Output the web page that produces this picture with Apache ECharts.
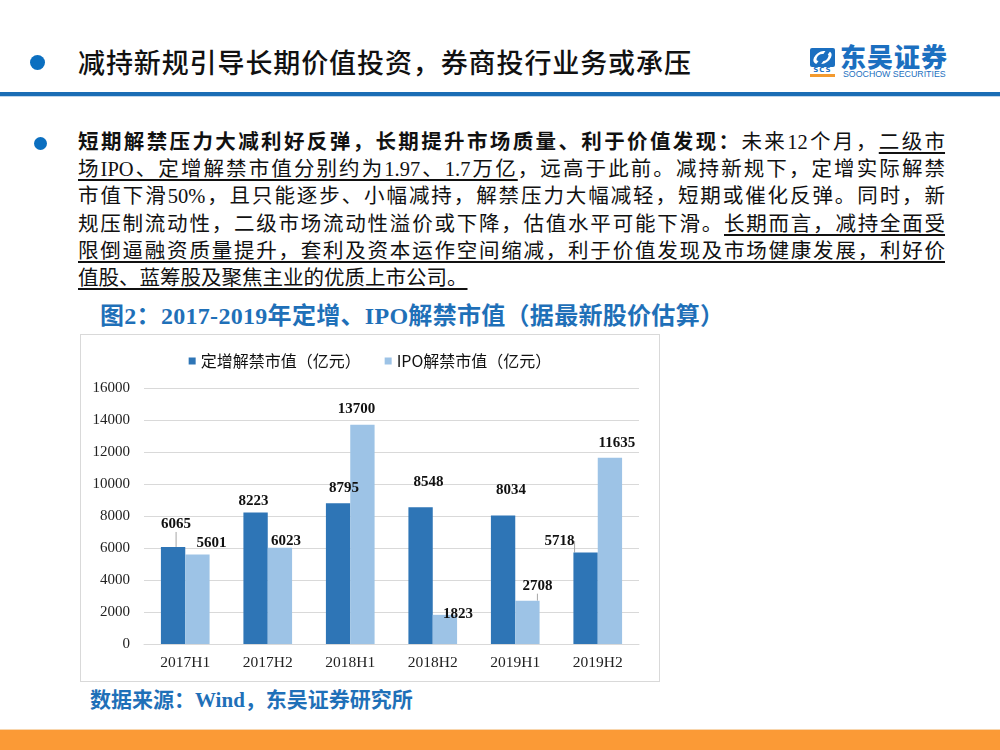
<!DOCTYPE html>
<html>
<head>
<meta charset="utf-8">
<script src="https://cdn.jsdelivr.net/npm/echarts@6/dist/echarts.min.js"></script>
<style>
  html, body { margin:0; padding:0; background:#fff; }
  #page { position:relative; width:1000px; height:750px; overflow:hidden; background:#fff;
          font-family:"Liberation Serif","Noto Sans CJK SC",serif; }
  .dot { position:absolute; border-radius:50%; background:#0B6FC0; }
  #title { position:absolute; left:78px; top:44px; font-family:"Noto Sans CJK SC",sans-serif;
           font-size:27px; line-height:36px; letter-spacing:0.9px; color:#111; font-weight:500; }
  #hline { position:absolute; left:0; top:92px; width:1000px; height:4px; background:#1A6DB5; }
  #hline2 { position:absolute; left:0; top:96px; width:1000px; height:1px; background:#BFD6EC; }
  #para { position:absolute; left:78px; top:129px; width:867px; font-size:20.5px; color:#111; }
  #para .ln { height:27.2px; line-height:27.2px; text-align:justify; text-align-last:justify; white-space:nowrap; }
  #para .ln.last { text-align-last:left; }
  #para b { font-weight:700; }
  #para u { text-decoration:underline; text-underline-offset:3px; }
  #ctitle { position:absolute; left:100px; top:300px; font-size:24px; line-height:32px; font-weight:700;
            color:#1F70B8; white-space:nowrap; letter-spacing:0.3px; }
  #chartbox { position:absolute; left:80px; top:334px; width:580px; height:348px; box-sizing:border-box;
              border:1px solid #d9d9d9; }
  #chart { width:578px; height:346px; }
  #source { position:absolute; left:90px; top:686px; font-size:21px; line-height:28px; font-weight:700;
            color:#1F70B8; white-space:nowrap; }
  #bottom { position:absolute; left:0; top:729px; width:1000px; height:21px; background:#FB9A36;
            border-top:1px solid #F8D6AE; }
  #logo-icon { position:absolute; left:810px; top:48px; width:25px; height:19px; background:#1B6FC0; border-radius:2px; overflow:hidden; }
  #logo-icon:before { content:""; position:absolute; left:4px; top:3px; width:17px; height:13px; border:3px solid #fff;
                      border-radius:7px; box-sizing:border-box; transform:skewX(-25deg); }
  #logo-icon:after { content:""; position:absolute; left:11px; top:-2px; width:4px; height:24px; background:#1B6FC0; transform:rotate(35deg); }
  #logo-scs { position:absolute; left:810px; top:67px; width:25px; font-family:"DejaVu Sans",sans-serif; font-size:7px; line-height:7px;
              font-weight:700; color:#1B6FC0; text-align:center; letter-spacing:1px; border-bottom:3px solid #F39A2E; }
  #logo-cn { position:absolute; left:840px; top:43px; font-family:"Noto Sans CJK SC",sans-serif; font-weight:900; font-size:26px;
             line-height:26px; color:#1B6FC0; letter-spacing:1px; }
  #logo-en { position:absolute; left:843px; top:69px; font-family:"Liberation Sans",sans-serif; font-size:8.8px; line-height:10px;
             color:#1B6FC0; letter-spacing:0; }
</style>
</head>
<body>
<div id="page">
  <div class="dot" style="left:30px;top:55px;width:15px;height:15px;"></div>
  <div id="title">减持新规引导长期价值投资，券商投行业务或承压</div>
  <div id="logo-icon"></div>
  <div id="logo-scs">SCS</div>
  <div id="logo-cn">东吴证券</div>
  <div id="logo-en">SOOCHOW SECURITIES</div>
  <div id="hline"></div>
  <div id="hline2"></div>

  <div class="dot" style="left:34px;top:137px;width:13px;height:13px;"></div>
  <div id="para">
    <div class="ln"><b>短期解禁压力大减利好反弹，长期提升市场质量、利于价值发现：</b>未来12个月，<u>二级市</u></div>
    <div class="ln"><u>场IPO、定增解禁市值分别约为1.97、1.7万亿</u>，远高于此前。减持新规下，定增实际解禁</div>
    <div class="ln">市值下滑50%，且只能逐步、小幅减持，解禁压力大幅减轻，短期或催化反弹。同时，新</div>
    <div class="ln">规压制流动性，二级市场流动性溢价或下降，估值水平可能下滑。<u>长期而言，减持全面受</u></div>
    <div class="ln"><u>限倒逼融资质量提升，套利及资本运作空间缩减，利于价值发现及市场健康发展，利好价</u></div>
    <div class="ln last"><u>值股、蓝筹股及聚焦主业的优质上市公司。</u></div>
  </div>

  <div id="ctitle">图2：2017-2019年定增、IPO解禁市值（据最新股价估算）</div>
  <div id="chartbox"><div id="chart"></div></div>
  <div id="source">数据来源：Wind，东吴证券研究所</div>
  <div id="bottom"></div>
</div>
<script>
// ---- data ----
const categories = ['2017H1', '2017H2', '2018H1', '2018H2', '2019H1', '2019H2'];
const seriesNames = ['定增解禁市值（亿元）', 'IPO解禁市值（亿元）'];
const dingzengValues = [6065, 8223, 8795, 8548, 8034, 5718];
const ipoValues = [5601, 6023, 13700, 1823, 2708, 11635];
const yTicks = { min: 0, max: 16000, interval: 2000 };

// label nudges (style only), leader line flags
const dzLabelShift = [[3, -11], [-2, 0], [6, -4], [8, -14], [8, -14], [-26, 0]];
const ipoLabelShift = [[14, 0], [6, 5], [-6, -4], [13, 11], [10, -3], [7, -3]];
const dzLeader = [true, false, false, false, false, true];
const ipoLeader = [false, false, false, false, true, false];

function mkData(vals, leaders) {
  return vals.map((v, i) => leaders[i]
    ? { value: v, labelLine: { show: true, lineStyle: { color: '#A6A6A6', width: 1 } } }
    : { value: v });
}

const chart = echarts.init(document.getElementById('chart'), null, { renderer: 'canvas' });
const labelStyle = {
  show: true, position: 'top', distance: 4,
  fontFamily: 'Liberation Serif', fontWeight: 'bold', fontSize: 15, color: '#111'
};
chart.setOption({
  animation: false,
  textStyle: { fontFamily: 'Liberation Serif' },
  legend: {
    top: 13, left: 'center', itemWidth: 7, itemHeight: 7, itemGap: 24, icon: 'rect',
    textStyle: { fontFamily: 'Noto Sans CJK SC', fontSize: 16, color: '#111' },
    data: seriesNames
  },
  grid: { left: 63, right: 20, top: 53, bottom: 37 },
  xAxis: {
    type: 'category', data: categories,
    axisLine: { lineStyle: { color: '#D9D9D9', width: 1 } },
    axisTick: { show: false },
    axisLabel: { fontFamily: 'Liberation Serif', fontSize: 15.5, color: '#222', margin: 11 }
  },
  yAxis: {
    type: 'value', min: yTicks.min, max: yTicks.max, interval: yTicks.interval,
    axisLine: { show: false }, axisTick: { show: false },
    splitLine: { lineStyle: { color: '#D9D9D9', width: 1 } },
    axisLabel: { fontFamily: 'Liberation Serif', fontSize: 15, color: '#222', margin: 14,
                 formatter: v => String(v) }
  },
  series: [
    {
      name: seriesNames[0], type: 'bar', data: mkData(dingzengValues, dzLeader),
      barGap: '0%', barCategoryGap: '41%',
      itemStyle: { color: '#2E75B6' },
      label: labelStyle,
      labelLayout: p => ({ dx: dzLabelShift[p.dataIndex][0], dy: dzLabelShift[p.dataIndex][1] })
    },
    {
      name: seriesNames[1], type: 'bar', data: mkData(ipoValues, ipoLeader),
      barGap: '0%', barCategoryGap: '41%',
      itemStyle: { color: '#9DC3E6' },
      label: labelStyle,
      labelLayout: p => ({ dx: ipoLabelShift[p.dataIndex][0], dy: ipoLabelShift[p.dataIndex][1] })
    }
  ]
});
</script>
</body>
</html>
